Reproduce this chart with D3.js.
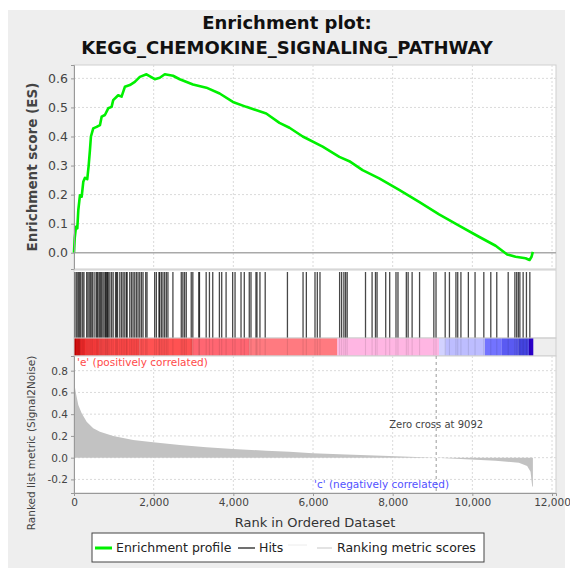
<!DOCTYPE html>
<html>
<head>
<meta charset="utf-8">
<script src="https://cdn.jsdelivr.net/npm/d3@7/dist/d3.min.js"></script>
<style>
  body { margin: 0; background: #fff; }
  text { font-family: "DejaVu Sans", sans-serif; }
</style>
</head>
<body>
<div class="chart"></div>
<script>
// running enrichment score
const esRanks  = [0, 18, 50, 83, 108, 150, 193, 233, 275, 333, 368, 400, 425, 483, 568, 651, 694, 776, 859, 944, 984,
                  1109, 1194, 1277, 1402, 1527, 1653, 1820, 2028, 2153, 2279, 2486, 2654, 2987, 3323, 3656, 3989, 4324,
                  4825, 5158, 5409, 5742, 6242, 6661, 6911, 7244, 7662, 8163, 8663, 9165, 9665, 10166, 10584, 10875,
                  11085, 11335, 11436, 11486, 11518];
const esScores = [0, 0.05, 0.089, 0.084, 0.147, 0.198, 0.193, 0.244, 0.258, 0.253, 0.30, 0.353, 0.40, 0.428, 0.433,
                  0.439, 0.468, 0.474, 0.497, 0.502, 0.525, 0.542, 0.537, 0.571, 0.577, 0.588, 0.605, 0.614, 0.597,
                  0.602, 0.614, 0.609, 0.597, 0.579, 0.568, 0.548, 0.519, 0.502, 0.479, 0.447, 0.43, 0.40, 0.365,
                  0.33, 0.315, 0.284, 0.256, 0.216, 0.175, 0.132, 0.093, 0.055, 0.024, -0.006, -0.014, -0.019,
                  -0.025, -0.014, 0.003];

// gene set members (hits) in the ranked list
const hitRanks = [25, 68, 100, 125, 150, 175, 218, 250, 318, 350, 383, 418, 450, 475, 525, 568, 588, 625, 650, 675,
                  700, 733, 775, 793, 818, 843, 858, 900, 943, 983, 1043, 1068, 1093, 1150, 1193, 1233, 1275, 1318,
                  1333, 1400, 1443, 1483, 1525, 1568, 1608, 1650, 1693, 1733, 1800, 1833, 2025, 2068, 2133, 2150,
                  2193, 2233, 2275, 2318, 2358, 2483, 2693, 2733, 2775, 2818, 2943, 2983, 3133, 3150, 3318, 3400,
                  3483, 3650, 3708, 3818, 3983, 4043, 4193, 4275, 4400, 4443, 4568, 4593, 4668, 4800, 5358, 5750,
                  5833, 6050, 6108, 6175, 6668, 6718, 6775, 6818, 6858, 7318, 7483, 7568, 7608, 7825, 7925, 8083,
                  8133, 8343, 8388, 8488, 8675, 9033, 9088, 9318, 9425, 9588, 9633, 9713, 9900, 10068, 10288, 10463,
                  10613, 10900, 11068, 11113, 11155, 11193, 11275, 11358, 11443];

// ranked list metric (Signal2Noise)
const metricRanks  = [0, 50, 108, 193, 318, 483, 651, 984, 1485, 1986, 2654, 3323, 3989, 4825, 5409, 5992, 6829,
                      7913, 9092, 9833, 10584, 11168, 11376, 11461, 11501, 11520];
const metricScores = [0.70, 0.59, 0.485, 0.408, 0.331, 0.27, 0.239, 0.20, 0.163, 0.141, 0.117, 0.096, 0.08, 0.064,
                      0.055, 0.04, 0.028, 0.016, 0.0, -0.015, -0.028, -0.046, -0.076, -0.129, -0.26, -0.27];

// heat bar under the hits
const barStops  = [0, 50, 150, 300, 650, 1650, 2980, 4400, 6610, 9165, 9320, 10316, 10740, 11168, 11418, 11530];
const barColors = ["#c80000", "#e01414", "#f22a2a", "#ff3c3c", "#ff4848", "#ff5252", "#ff6672", "#ff7a80",
                   "#ffb6e3", "#d2d2ff", "#bdbdff", "#7373ff", "#5a5af2", "#4343e0", "#2a00c8"];

const esTicks     = [0, 0.1, 0.2, 0.3, 0.4, 0.5, 0.6];
const metricTicks = [-0.2, 0, 0.2, 0.4, 0.6, 0.8];
const rankTicks   = [0, 2000, 4000, 6000, 8000, 10000, 12000];
const zeroCross   = 9092;

const width = 570, height = 568;
const left = 74, right = 556;

const svg = d3.select('.chart').append('svg')
    .attr('width', width)
    .attr('height', height);

svg.append('rect').attr('x', 8).attr('y', 10).attr('width', 557).attr('height', 558).attr('fill', '#eeeeee');

const x = d3.scaleLinear().domain([0, 12100]).range([left, right]);
const yES = d3.scaleLinear().domain([-0.056, 0.646]).range([269, 65]);
const yM = d3.scaleLinear().domain([-0.325, 0.935]).range([493, 356]);

// title
const title = svg.append('g').attr('font-weight', 'bold').attr('font-size', 18).attr('fill', '#111')
    .attr('text-anchor', 'middle');
title.append('text').attr('x', 287).attr('y', 29).text('Enrichment plot:');
title.append('text').attr('x', 287).attr('y', 54).text('KEGG_CHEMOKINE_SIGNALING_PATHWAY');

// ---- top panel: enrichment score
svg.append('rect').attr('x', left).attr('y', 65).attr('width', right - left).attr('height', 204)
    .attr('fill', '#fff').attr('stroke', '#cfcfcf');

svg.append('g').selectAll('line').data(rankTicks.slice(1)).enter().append('line')
    .attr('x1', d => x(d)).attr('x2', d => x(d)).attr('y1', 65).attr('y2', 269)
    .attr('stroke', '#dadada').attr('stroke-dasharray', '2,2');
svg.append('g').selectAll('line').data(esTicks.slice(1)).enter().append('line')
    .attr('x1', left).attr('x2', right).attr('y1', d => yES(d)).attr('y2', d => yES(d))
    .attr('stroke', '#dadada').attr('stroke-dasharray', '2,2');
svg.append('line').attr('x1', left).attr('x2', right).attr('y1', yES(0)).attr('y2', yES(0))
    .attr('stroke', '#a9a9a9').attr('stroke-width', 1.5);

const esLine = d3.line().x(d => x(d[0])).y(d => yES(d[1]));
svg.append('path').datum(esRanks.map((r, i) => [r, esScores[i]]))
    .attr('d', esLine).attr('fill', 'none').attr('stroke', '#00f000').attr('stroke-width', 2.6)
    .attr('stroke-linejoin', 'round');

const yAxisES = svg.append('g').attr('transform', `translate(${left},0)`)
    .call(d3.axisLeft(yES).tickValues(esTicks).tickFormat(d => d.toFixed(1)).tickSize(3));
yAxisES.selectAll('text').attr('font-size', 12.5).attr('fill', '#444').attr('font-family', '"DejaVu Sans", sans-serif');
yAxisES.selectAll('line,path').attr('stroke', '#999');

svg.append('text').attr('transform', 'translate(37,167) rotate(-90)').attr('text-anchor', 'middle')
    .attr('font-size', 13.5).attr('font-weight', 'bold').attr('fill', '#444').text('Enrichment score (ES)');

// ---- hits panel
svg.append('rect').attr('x', left).attr('y', 270).attr('width', right - left).attr('height', 68)
    .attr('fill', '#fff').attr('stroke', '#cfcfcf');

svg.append('g').selectAll('rect').data(barColors).enter().append('rect')
    .attr('x', (d, i) => x(barStops[i]))
    .attr('width', (d, i) => x(barStops[i + 1]) - x(barStops[i]))
    .attr('y', 338).attr('height', 18)
    .attr('fill', d => d);

svg.append('g').selectAll('line').data(hitRanks).enter().append('line')
    .attr('x1', d => x(d)).attr('x2', d => x(d)).attr('y1', 272).attr('y2', 338)
    .attr('stroke', '#000').attr('stroke-opacity', 0.72).attr('stroke-width', 1.3);
svg.append('g').selectAll('line').data(hitRanks).enter().append('line')
    .attr('x1', d => x(d)).attr('x2', d => x(d)).attr('y1', 338).attr('y2', 356)
    .attr('stroke', '#000').attr('stroke-opacity', 0.1).attr('stroke-width', 1.1);

svg.append('rect').attr('x', left).attr('y', 338).attr('width', right - left).attr('height', 18)
    .attr('fill', 'none').attr('stroke', '#cfcfcf');

// ---- bottom panel: ranked list metric
svg.append('rect').attr('x', left).attr('y', 356).attr('width', right - left).attr('height', 137)
    .attr('fill', '#fff').attr('stroke', '#cfcfcf');

svg.append('g').selectAll('line').data(rankTicks.slice(1)).enter().append('line')
    .attr('x1', d => x(d)).attr('x2', d => x(d)).attr('y1', 356).attr('y2', 493)
    .attr('stroke', '#dadada').attr('stroke-dasharray', '2,2');
svg.append('g').selectAll('line').data(metricTicks).enter().append('line')
    .attr('x1', left).attr('x2', right).attr('y1', d => yM(d)).attr('y2', d => yM(d))
    .attr('stroke', '#dadada').attr('stroke-dasharray', '2,2');

const area = d3.area().x(d => x(d[0])).y0(yM(0)).y1(d => yM(d[1]));
svg.append('path').datum(metricRanks.map((r, i) => [r, metricScores[i]]))
    .attr('d', area).attr('fill', '#c2c2c2');

svg.append('line').attr('x1', x(zeroCross)).attr('x2', x(zeroCross)).attr('y1', 356).attr('y2', 493)
    .attr('stroke', '#9a9a9a').attr('stroke-dasharray', '3,3');

svg.append('text').attr('x', x(zeroCross)).attr('y', 428).attr('text-anchor', 'middle')
    .attr('font-size', 10).attr('fill', '#444').text('Zero cross at ' + zeroCross);
svg.append('text').attr('x', 77).attr('y', 366).attr('font-size', 10.5).attr('fill', '#ff4a4a')
    .text("'e' (positively correlated)");
svg.append('text').attr('x', 449).attr('y', 488).attr('text-anchor', 'end').attr('font-size', 10.5)
    .attr('fill', '#5252ff').text("'c' (negatively correlated)");

const yAxisM = svg.append('g').attr('transform', `translate(${left},0)`)
    .call(d3.axisLeft(yM).tickValues(metricTicks).tickFormat(d => d.toFixed(1)).tickSize(3));
yAxisM.selectAll('text').attr('font-size', 10.5).attr('fill', '#444').attr('font-family', '"DejaVu Sans", sans-serif');
yAxisM.selectAll('line,path').attr('stroke', '#999');

const xAxis = svg.append('g').attr('transform', 'translate(0,493)')
    .call(d3.axisBottom(x).tickValues(rankTicks).tickFormat(d3.format(',')).tickSize(3));
xAxis.selectAll('text').attr('font-size', 10.5).attr('fill', '#444').attr('font-family', '"DejaVu Sans", sans-serif');
xAxis.selectAll('line,path').attr('stroke', '#999');

svg.append('text').attr('transform', 'translate(35,443) rotate(-90)').attr('text-anchor', 'middle')
    .attr('font-size', 10.5).attr('fill', '#444').text('Ranked list metric (Signal2Noise)');
svg.append('text').attr('x', 315).attr('y', 527).attr('text-anchor', 'middle')
    .attr('font-size', 13).attr('fill', '#333').text('Rank in Ordered Dataset');

// ---- legend
const legend = svg.append('g');
legend.append('rect').attr('x', 92).attr('y', 533).attr('width', 392).attr('height', 29)
    .attr('fill', '#fff').attr('stroke', '#444');
legend.append('line').attr('x1', 95).attr('x2', 112).attr('y1', 548).attr('y2', 548)
    .attr('stroke', '#00f000').attr('stroke-width', 3);
legend.append('text').attr('x', 116).attr('y', 552).attr('font-size', 12.5).attr('fill', '#222').text('Enrichment profile');
legend.append('line').attr('x1', 238).attr('x2', 255).attr('y1', 548).attr('y2', 548)
    .attr('stroke', '#222').attr('stroke-width', 1.3);
legend.append('text').attr('x', 259).attr('y', 552).attr('font-size', 12.5).attr('fill', '#222').text('Hits');
legend.append('line').attr('x1', 288).attr('x2', 307).attr('y1', 545).attr('y2', 545)
    .attr('stroke', '#ececec').attr('stroke-width', 1);
legend.append('line').attr('x1', 317).attr('x2', 332).attr('y1', 548).attr('y2', 548)
    .attr('stroke', '#d4d4d4').attr('stroke-width', 1.3);
legend.append('text').attr('x', 337).attr('y', 552).attr('font-size', 12.5).attr('fill', '#222').text('Ranking metric scores');
</script>
</body>
</html>
